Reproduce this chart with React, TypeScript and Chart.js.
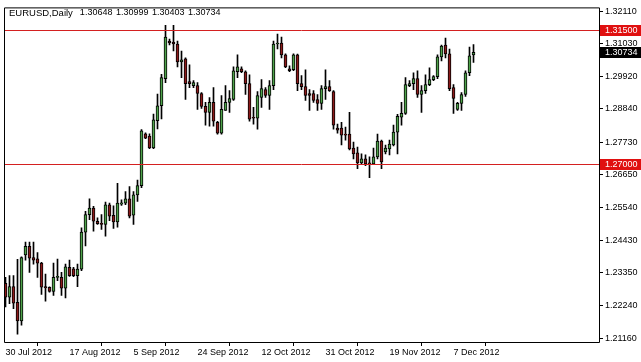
import React, { useEffect, useRef } from "react";
import { Chart, registerables } from "chart.js";

Chart.register(...registerables);

const symbolName = "EURUSD,Daily";

const opens = [
  1.22996, 1.22532, 1.22885, 1.22355, 1.21735, 1.23947, 1.24235, 1.23859, 1.23815, 1.23671,
  1.22885, 1.22863, 1.2272, 1.23195, 1.23195, 1.2283, 1.23527, 1.23483, 1.23251, 1.23472,
  1.24711, 1.25297, 1.25518, 1.25076, 1.25009, 1.24965, 1.25629, 1.25275, 1.25053, 1.25651,
  1.25684, 1.25828, 1.25275, 1.2596, 1.2627, 1.28007, 1.27929, 1.27531, 1.28449, 1.28947,
  1.29854, 1.31115, 1.31082, 1.31016, 1.30418, 1.30518, 1.29755, 1.29622, 1.29622, 1.29356,
  1.28925, 1.28726, 1.29058, 1.28394, 1.28029, 1.28792, 1.29058, 1.29157, 1.30086, 1.30186,
  1.30086, 1.29688, 1.2856, 1.28527, 1.29224, 1.29489, 1.2929, 1.29622, 1.31016, 1.31049,
  1.30651, 1.30186, 1.30153, 1.30651, 1.29688, 1.29589, 1.29356, 1.29356, 1.29157, 1.29025,
  1.29522, 1.29589, 1.29423, 1.28195, 1.28195, 1.27996, 1.27996, 1.27531, 1.27366, 1.27034,
  1.27166, 1.27034, 1.27001, 1.27233, 1.27764, 1.27399, 1.27498, 1.27631, 1.28062, 1.2856,
  1.28693, 1.29622, 1.29688, 1.29854, 1.29323, 1.29456, 1.29655, 1.29821, 1.29921, 1.30584,
  1.30982, 1.30684, 1.29556, 1.28826, 1.29025, 1.29323, 1.30053, 1.30648,
];

const highs = [
  1.23195, 1.23251, 1.23251, 1.238, 1.23881, 1.24379, 1.24379, 1.24379, 1.24025, 1.237,
  1.23306, 1.2288, 1.23671, 1.23804, 1.23361, 1.23638, 1.2377, 1.23527, 1.23638, 1.24854,
  1.25407, 1.25828, 1.25573, 1.25186, 1.25297, 1.25717, 1.25684, 1.25595, 1.26348, 1.25795,
  1.26071, 1.26237, 1.26071, 1.26458, 1.28151, 1.2804, 1.28007, 1.2867, 1.29334, 1.29998,
  1.31646, 1.31181, 1.31646, 1.31115, 1.30783, 1.30551, 1.30319, 1.29788, 1.29721, 1.2939,
  1.29058, 1.29224, 1.29556, 1.28427, 1.2929, 1.29622, 1.29456, 1.30252, 1.30651, 1.30252,
  1.3012, 1.29987, 1.28892, 1.29423, 1.29821, 1.29556, 1.29788, 1.31115, 1.31347, 1.31248,
  1.30684, 1.30286, 1.30684, 1.3068, 1.29954, 1.30153, 1.29489, 1.29456, 1.29323, 1.29622,
  1.30153, 1.29788, 1.29456, 1.28328, 1.28394, 1.28228, 1.28726, 1.2773, 1.27565, 1.27332,
  1.27299, 1.27233, 1.27531, 1.27996, 1.27797, 1.27631, 1.27797, 1.28295, 1.2866, 1.29058,
  1.29887, 1.29788, 1.30053, 1.3012, 1.29622, 1.29987, 1.30219, 1.29954, 1.30651, 1.30982,
  1.31215, 1.3085, 1.29655, 1.29058, 1.2939, 1.3012, 1.30916, 1.30999,
];

const lows = [
  1.222, 1.2231, 1.22144, 1.21293, 1.21591, 1.2377, 1.23361, 1.23638, 1.23195, 1.2262,
  1.22399, 1.22697, 1.22587, 1.23085, 1.22587, 1.22509, 1.2323, 1.2322, 1.22885, 1.23416,
  1.24246, 1.25131, 1.24744, 1.24965, 1.24799, 1.24578, 1.25098, 1.24832, 1.24876, 1.25607,
  1.25629, 1.25186, 1.24965, 1.2574, 1.26204, 1.27841, 1.27509, 1.27509, 1.28173, 1.28504,
  1.29721, 1.30982, 1.30783, 1.30252, 1.29887, 1.29157, 1.29556, 1.29556, 1.28826, 1.28859,
  1.28295, 1.28261, 1.28261, 1.27996, 1.27996, 1.28792, 1.28726, 1.29124, 1.29887, 1.30053,
  1.29323, 1.28427, 1.28328, 1.28162, 1.28892, 1.29224, 1.28826, 1.29489, 1.3085, 1.30551,
  1.30219, 1.30086, 1.3012, 1.29456, 1.29489, 1.29124, 1.28792, 1.29058, 1.28792, 1.28826,
  1.29157, 1.29423, 1.28162, 1.28029, 1.27631, 1.27797, 1.27465, 1.27166, 1.26835, 1.26968,
  1.26935, 1.26536, 1.26985, 1.27166, 1.26835, 1.27332, 1.27299, 1.27598, 1.27332, 1.28295,
  1.2866, 1.29589, 1.29489, 1.29224, 1.28726, 1.29356, 1.29622, 1.29788, 1.29854, 1.30451,
  1.30551, 1.29456, 1.28693, 1.28792, 1.28792, 1.29256, 1.29954, 1.30403,
];

const closes = [
  1.22532, 1.22885, 1.22332, 1.21735, 1.23859, 1.24235, 1.23837, 1.2377, 1.23671, 1.22863,
  1.22841, 1.2272, 1.23195, 1.23217, 1.2283, 1.23549, 1.23251, 1.23251, 1.23472, 1.24711,
  1.25297, 1.25518, 1.25076, 1.24998, 1.24965, 1.25629, 1.25242, 1.25053, 1.25684, 1.25695,
  1.25828, 1.25242, 1.2596, 1.2627, 1.28106, 1.27863, 1.27531, 1.28471, 1.28947, 1.29887,
  1.31248, 1.31049, 1.31016, 1.30418, 1.30485, 1.29688, 1.29688, 1.29721, 1.29356, 1.28925,
  1.28726, 1.29058, 1.28427, 1.28029, 1.28826, 1.29058, 1.2919, 1.3012, 1.30252, 1.30086,
  1.29688, 1.28494, 1.28527, 1.2929, 1.29522, 1.2929, 1.29622, 1.31016, 1.31049, 1.30651,
  1.30252, 1.3012, 1.30651, 1.29688, 1.29589, 1.2929, 1.2929, 1.29124, 1.29025, 1.29522,
  1.29589, 1.29456, 1.28295, 1.28129, 1.27963, 1.27963, 1.27498, 1.27332, 1.27034, 1.27166,
  1.27001, 1.27001, 1.27233, 1.27764, 1.27067, 1.27531, 1.27664, 1.28062, 1.28593, 1.28693,
  1.29655, 1.29688, 1.29854, 1.29323, 1.29456, 1.29655, 1.29821, 1.29921, 1.30584, 1.30949,
  1.30684, 1.29522, 1.2919, 1.29025, 1.29323, 1.30053, 1.30617, 1.30734,
];

const xTickBars = [0, 16, 32, 48, 64, 80, 96, 112];
const xTickLabels = [
  "30 Jul 2012",
  "17 Aug 2012",
  "5 Sep 2012",
  "24 Sep 2012",
  "12 Oct 2012",
  "31 Oct 2012",
  "19 Nov 2012",
  "7 Dec 2012",
];
const yTickValues = [
  1.3211, 1.3103, 1.2992, 1.2884, 1.2773, 1.2665, 1.2554, 1.2443, 1.2335, 1.2224, 1.2116,
];
const levelLines = [1.315, 1.27];

const FONT = "'Liberation Sans', Arial, sans-serif";
const BULL = "#4ea24a";
const BEAR = "#8c1a1a";
const LEVEL = "#d42020";

export default function App() {
  const ref = useRef<HTMLCanvasElement | null>(null);

  useEffect(() => {
    const canvas = ref.current;
    if (!canvas) return;
    const n = opens.length;
    const bodyData = opens.map((o, i) => ({ x: i, y: [o, closes[i]] }));
    const wickData = opens.map((_, i) => ({ x: i, y: [lows[i], highs[i]] }));
    const bodyColors = opens.map((o, i) => (closes[i] >= o ? BULL : BEAR));

    const decor = {
      id: "mtDecor",
      afterDraw(chart: any) {
        const ctx = chart.ctx;
        const { left, right, top, bottom } = chart.chartArea;
        const ys = chart.scales.y;
        ctx.save();
        // level lines
        ctx.strokeStyle = LEVEL;
        ctx.lineWidth = 1;
        levelLines.forEach((v) => {
          const py = Math.round(ys.getPixelForValue(v)) + 0.5;
          ctx.beginPath();
          ctx.moveTo(left, py);
          ctx.lineTo(right, py);
          ctx.stroke();
        });
        // frame
        ctx.strokeStyle = "#000";
        ctx.beginPath();
        ctx.moveTo(left + 0.5, bottom + 0.5);
        ctx.lineTo(left + 0.5, top + 0.5);
        ctx.lineTo(right + 0.5, top + 0.5);
        ctx.lineTo(right + 0.5, bottom + 0.5);
        ctx.lineTo(left + 0.5, bottom + 0.5);
        ctx.stroke();
        // price boxes
        ctx.font = `9px ${FONT}`;
        ctx.textBaseline = "middle";
        ctx.textAlign = "left";
        const boxes = [
          { v: levelLines[0], bg: "#e01010" },
          { v: closes[n - 1], bg: "#000" },
          { v: levelLines[1], bg: "#e01010" },
        ];
        boxes.forEach((b) => {
          const py = Math.round(ys.getPixelForValue(b.v));
          ctx.fillStyle = b.bg;
          ctx.fillRect(right + 1, py - 5, 641 - right - 1, 11);
          ctx.fillStyle = "#fff";
          ctx.fillText(b.v.toFixed(5), right + 6, py + 0.5);
        });
        // title
        ctx.fillStyle = "#000";
        const last = n - 1;
        ctx.font = `9.5px ${FONT}`;
        ctx.fillText(symbolName, 9, 13);
        ctx.font = `9px ${FONT}`;
        const nums = [opens[last], highs[last], lows[last], closes[last]];
        let tx = 9 + ctx.measureText(symbolName).width * (9.5 / 9) + 7;
        nums.forEach((v) => {
          const s = v.toFixed(5);
          ctx.fillText(s, tx, 13);
          tx += ctx.measureText(s).width + 3.5;
        });
        ctx.restore();
      },
    };

    const chart = new Chart(canvas, {
      type: "bar",
      data: {
        datasets: [
          {
            data: wickData as any,
            backgroundColor: "#000",
            borderWidth: 0,
            barThickness: 1,
            grouped: false,
            order: 2,
          } as any,
          {
            data: bodyData as any,
            backgroundColor: bodyColors,
            borderColor: "#000",
            borderWidth: 1,
            borderSkipped: false,
            barThickness: 3,
            minBarLength: 1,
            grouped: false,
            order: 1,
          } as any,
        ],
      },
      options: {
        responsive: false,
        animation: false,
        devicePixelRatio: 1,
        layout: { padding: { left: 4, top: 4, right: 0, bottom: 0 }, autoPadding: false } as any,
        plugins: {
          legend: { display: false },
          tooltip: { enabled: false },
        },
        scales: {
          x: {
            type: "linear",
            min: -0.375,
            max: 148.375,
            offset: false,
            afterBuildTicks: (s: any) => {
              s.ticks = xTickBars.map((v) => ({ value: v }));
            },
            afterFit: (s: any) => {
              s.height = 20;
            },
            ticks: {
              autoSkip: false,
              maxRotation: 0,
              minRotation: 0,
              align: "start",
              padding: 1,
              color: "#000",
              font: { family: FONT, size: 9 },
              callback: (_v: any, i: number) => xTickLabels[i],
            },
            grid: {
              display: true,
              drawOnChartArea: false,
              drawTicks: true,
              tickLength: 4,
              color: "#000",
              tickColor: "#000",
            },
            border: { display: false },
          } as any,
          y: {
            type: "linear",
            position: "right",
            min: 1.21028,
            max: 1.32243,
            afterBuildTicks: (s: any) => {
              s.ticks = yTickValues.map((v) => ({ value: v }));
            },
            afterFit: (s: any) => {
              s.width = 42;
            },
            ticks: {
              autoSkip: false,
              padding: 2,
              color: "#000",
              font: { family: FONT, size: 9 },
              callback: (v: any) => Number(v).toFixed(5),
            },
            grid: {
              display: true,
              drawOnChartArea: false,
              drawTicks: true,
              tickLength: 4,
              color: "#000",
              tickColor: "#000",
            },
            border: { display: false },
          } as any,
        },
      },
      plugins: [decor],
    });
    return () => chart.destroy();
  }, []);

  return (
    <div style={{ position: "absolute", left: 0, top: 0, width: 641, height: 362, background: "#fff" }}>
      <canvas ref={ref} width={641} height={362} style={{ display: "block" }} />
    </div>
  );
}
